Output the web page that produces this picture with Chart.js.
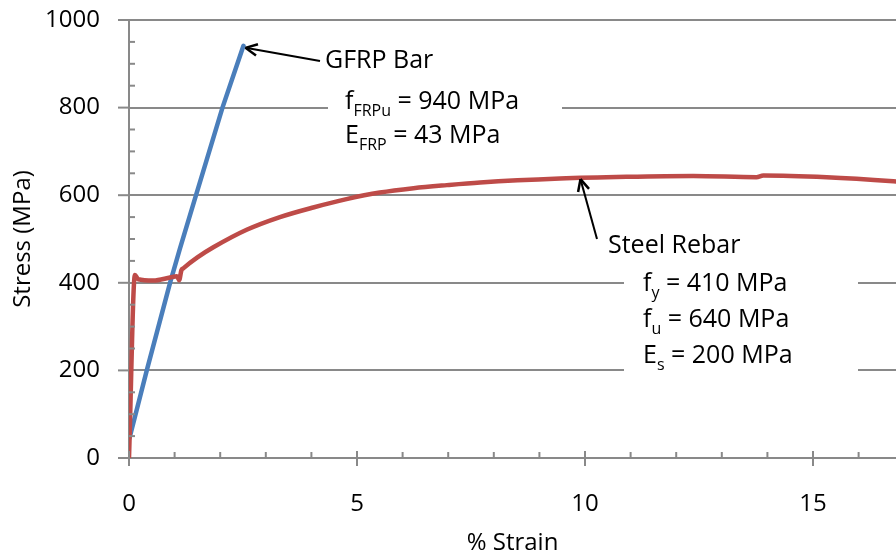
<!DOCTYPE html>
<html>
<head>
<meta charset="utf-8">
<script src="https://cdn.jsdelivr.net/npm/chart.js@4/dist/chart.umd.min.js"></script>
<style>
  body { margin: 0; background: #fff; }
  #wrap { width: 896px; height: 554px; }
</style>
</head>
<body>
<div id="wrap"><canvas id="stress_strain" width="896" height="554"></canvas></div>
<script>
// GFRP bar curve (% strain, MPa)
const strainGfrp = [0.01, 0.39, 0.90, 1.12, 1.47, 2.05, 2.51];
const stressGfrp = [45, 200, 400, 479, 600, 800, 941];

// steel rebar curve (% strain, MPa)
const strainSteel = [0, 0.13, 0.20, 0.53, 0.90, 1.05, 1.10, 1.15, 1.19, 1.50, 1.85, 2.58, 3.31, 4.04, 4.77, 5.50, 6.24, 6.97, 7.70, 9.45, 10.91, 12.37, 13.76, 13.91, 15.30, 16.76, 17.00];
const stressSteel = [0, 418, 408, 405, 412, 415, 406, 429, 433, 458, 481, 521, 550, 572, 591, 606, 616, 623, 629, 638, 642, 644, 641, 645, 641, 632, 630];

const xTicks = [0, 5, 10, 15];
const yTicks = [0, 200, 400, 600, 800, 1000];

const axisGray = '#898989';
const font = 'Open Sans';

function toPoints(xs, ys) {
  return xs.map((v, i) => ({ x: v, y: ys[i] }));
}

function line(ctx, x1, y1, x2, y2) {
  ctx.beginPath();
  ctx.moveTo(x1, y1);
  ctx.lineTo(x2, y2);
  ctx.stroke();
}

function arrow(ctx, x1, y1, x2, y2) {
  // from tail (x1,y1) to tip (x2,y2), open head
  ctx.strokeStyle = '#000';
  ctx.lineWidth = 2;
  line(ctx, x1, y1, x2, y2);
  const a = Math.atan2(y2 - y1, x2 - x1);
  const len = 13, spread = 0.45;
  ctx.lineWidth = 2.5;
  line(ctx, x2, y2, x2 - len * Math.cos(a - spread), y2 - len * Math.sin(a - spread));
  line(ctx, x2, y2, x2 - len * Math.cos(a + spread), y2 - len * Math.sin(a + spread));
}

// parts: [text, isSubscript]
function richText(ctx, parts, x, y) {
  let cx = x;
  for (const [t, sub] of parts) {
    ctx.font = sub ? `16px ${font}` : `25px ${font}`;
    ctx.fillText(t, cx, sub ? y + 9 : y);
    cx += ctx.measureText(t).width;
  }
}

const decor = {
  id: 'decor',
  afterDatasetsDraw(chart) {
    const { ctx, scales: { x, y } } = chart;
    ctx.save();
    ctx.strokeStyle = axisGray;
    ctx.lineWidth = 2;
    // y ticks: major outside, minor inside
    for (let v = 0; v <= 1000; v += 50) {
      const py = y.getPixelForValue(v);
      if (v % 200 === 0) line(ctx, x.left - 11, py, x.left, py);
      else line(ctx, x.left, py, x.left + 6, py);
    }
    // x ticks: major crossing, minor inside
    for (let v = 0; v <= 16; v++) {
      const px = x.getPixelForValue(v);
      if (v % 5 === 0) line(ctx, px, y.bottom - 7, px, y.bottom + 8);
      else line(ctx, px, y.bottom - 6, px, y.bottom);
    }

    // white boxes breaking the gridlines behind the notes
    ctx.fillStyle = '#fff';
    ctx.fillRect(328, 86, 234, 62);
    ctx.fillRect(624, 266, 234, 108);

    ctx.fillStyle = '#000';
    ctx.textBaseline = 'middle';
    ctx.textAlign = 'left';
    ctx.font = `25px ${font}`;
    ctx.fillText('GFRP Bar', 325, 61);
    richText(ctx, [['f', false], ['FRPu', true], [' = 940 MPa', false]], 345, 102);
    richText(ctx, [['E', false], ['FRP', true], [' = 43 MPa', false]], 345, 136);

    ctx.font = `25px ${font}`;
    ctx.fillText('Steel Rebar', 608, 246);
    richText(ctx, [['f', false], ['y', true], [' = 410 MPa', false]], 643, 284);
    richText(ctx, [['f', false], ['u', true], [' = 640 MPa', false]], 643, 320);
    richText(ctx, [['E', false], ['s', true], [' = 200 MPa', false]], 643, 356);

    // arrows pointing at the curves
    const gTipX = x.getPixelForValue(strainGfrp[strainGfrp.length - 1]) + 2;
    const gTipY = y.getPixelForValue(stressGfrp[stressGfrp.length - 1]) + 2;
    arrow(ctx, 320, 61, gTipX, gTipY);
    arrow(ctx, 597, 239, x.getPixelForValue(9.9), y.getPixelForValue(639) + 1);
    ctx.restore();
  }
};

const ctx = document.getElementById('stress_strain').getContext('2d');
const chart = new Chart(ctx, {
  type: 'scatter',
  data: {
    datasets: [{
      label: 'Steel Rebar',
      data: toPoints(strainSteel, stressSteel),
      showLine: true,
      borderColor: '#BE4B48',
      borderWidth: 4.5,
      pointRadius: 0,
      cubicInterpolationMode: 'monotone'
    }, {
      label: 'GFRP Bar',
      data: toPoints(strainGfrp, stressGfrp),
      showLine: true,
      borderColor: '#4A7EBB',
      borderWidth: 4.5,
      pointRadius: 0,
      tension: 0,
      borderCapStyle: 'round'
    }]
  },
  options: {
    responsive: false,
    animation: false,
    layout: { padding: { top: 20, right: 0, bottom: 0, left: 0 } },
    plugins: {
      legend: { display: false },
      tooltip: { enabled: false }
    },
    scales: {
      x: {
        type: 'linear',
        min: 0,
        max: 16.82,
        afterBuildTicks: s => { s.ticks = xTicks.map(v => ({ value: v })); },
        afterFit: s => { s.height = 96; s.paddingLeft = 0; s.paddingRight = 0; },
        grid: { display: false, drawTicks: false },
        border: { color: axisGray, width: 2 },
        ticks: { color: '#000', font: { family: font, size: 24 }, padding: 32, maxRotation: 0, callback: v => String(v) },
        title: { display: true, text: '% Strain', color: '#000', font: { family: font, size: 24 }, padding: { top: 0, bottom: -4 } }
      },
      y: {
        min: 0,
        max: 1000,
        afterBuildTicks: s => { s.ticks = yTicks.map(v => ({ value: v })); },
        afterFit: s => { s.width = 129; s.paddingTop = 0; s.paddingBottom = 0; },
        grid: { color: axisGray, lineWidth: 2, drawTicks: false },
        border: { color: axisGray, width: 2 },
        ticks: { color: '#000', font: { family: font, size: 24 }, padding: 29, callback: v => String(v) },
        title: { display: true, text: 'Stress (MPa)', color: '#000', font: { family: font, size: 24 }, padding: { top: 9, bottom: 0 } }
      }
    }
  },
  plugins: [decor]
});
</script>
</body>
</html>
